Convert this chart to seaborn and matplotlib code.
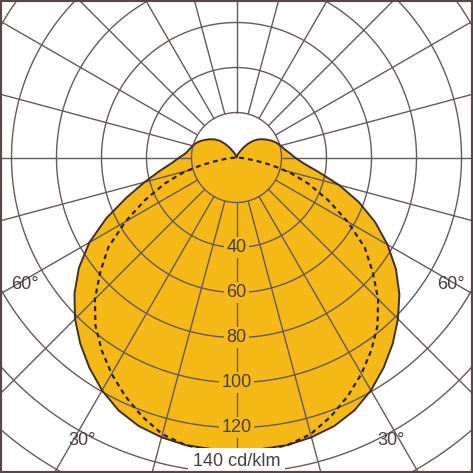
import numpy as np
import matplotlib
matplotlib.use("Agg")
import matplotlib.pyplot as plt
import seaborn as sns

# ── Data (cd/klm) ──────────────────────────────────────────
gamma = [0, 5, 10, 15, 20, 25, 30, 35, 40, 45, 50, 55, 60, 65, 70, 75, 80, 85,
         90, 95, 100, 105, 110, 115, 120, 125, 130, 135, 140, 145, 150, 155,
         160, 170, 180]

# C0 plane (right half) and C180 plane (left half), filled curve
c0 = [130, 130, 129.8, 128.7, 127, 124, 119.5, 114, 108, 101.5, 94.5, 86.5,
      77.5, 68, 57.8, 47.2, 37, 30, 26, 23.6, 21.6, 20.3, 19, 17.5, 15.8,
      14.2, 12.5, 10.5, 8, 5.5, 3.2, 2, 1.2, 0.4, 0]
c180 = [130, 130, 129.8, 128.7, 127, 124, 119.5, 114, 108, 101.5, 94, 85.5,
        75.5, 63.8, 52, 42.3, 34.8, 29, 25.4, 22.6, 21.2, 20.2, 19, 17.5, 15.8,
        14.2, 12.5, 10.5, 8, 5.5, 3.2, 2, 1.2, 0.4, 0]

# C90/C270 plane, dashed curve
gamma_d = [0, 5, 10, 15, 20, 25, 30, 35, 40, 45, 50, 55, 60, 65, 70, 72, 74,
           76, 78, 80, 85, 90]
c90 = [131, 130.8, 129.8, 127.3, 122.5, 117, 111, 104.5, 97.5, 89, 79, 69.5,
       57, 45, 34, 29, 25, 20, 15, 10, 3.5, 0]

ring_values = [40, 60, 80, 100, 120]
angle_labels = ["60°", "30°"]

# ── Style ──────────────────────────────────────────────────
sns.set_style("white")
plt.rcParams["font.family"] = ["Liberation Sans", "DejaVu Sans"]

FILL = "#F4B817"
GRID = "#685959"
EDGE = "#3f2f2f"
TEXT = "#4a3f3f"


def to_xy(g, r, side=1):
    g = np.radians(np.asarray(g, float))
    r = np.asarray(r, float)
    return side * r * np.sin(g), -r * np.cos(g)


fig = plt.figure(figsize=(4.73, 4.73), dpi=100)
ax = fig.add_axes([0, 0, 1, 1])

# filled distribution
xr, yr = to_xy(gamma, c0, 1)
xl, yl = to_xy(gamma, c180, -1)
px = np.concatenate([xr, xl[::-1]])
py = np.concatenate([yr, yl[::-1]])
ax.fill(px, py, color=FILL, zorder=1, lw=0)

# grid: rings and radial lines every 15 degrees starting at r = 20
t = np.linspace(0, 2 * np.pi, 721)
for r in range(20, 220, 20):
    ax.plot(r * np.sin(t), r * np.cos(t), color=GRID, lw=1.0, zorder=2)
for a in range(0, 360, 15):
    ar = np.radians(a)
    ax.plot([20 * np.sin(ar), 220 * np.sin(ar)],
            [-20 * np.cos(ar), -220 * np.cos(ar)],
            color=GRID, lw=1.0, zorder=2)

# outline of filled curve
sns.lineplot(x=px, y=py, sort=False, estimator=None, color=EDGE, lw=1.4,
             ax=ax, zorder=4)

# dashed curve (symmetric)
dxr, dyr = to_xy(gamma_d, c90, 1)
dxl, dyl = to_xy(gamma_d, c90, -1)
dx = np.concatenate([dxl, dxr[::-1]])
dy = np.concatenate([dyl, dyr[::-1]])
sns.lineplot(x=dx, y=dy, sort=False, estimator=None, color="#2a2230",
             lw=1.6, ax=ax, zorder=4, dashes=False, linestyle=(0, (2.2, 1.8)))

# ring labels
for v in ring_values:
    ax.text(0, -v, str(v), ha="center", va="center", fontsize=13,
            color=TEXT, zorder=6,
            bbox=dict(boxstyle="square,pad=0.12", fc=FILL, ec="none"))
ax.text(0, -134.9, "140 cd/klm", ha="center", va="center", fontsize=13,
        color=TEXT, zorder=6,
        bbox=dict(boxstyle="square,pad=0.25", fc="white", ec="none"))

# angle labels
for lab, (x, y) in zip(angle_labels * 2,
                       [(-94, -56.5), (-68.8, -125.6), (95.3, -56.5), (68.7, -125.6)]):
    ax.text(x, y, lab, ha="center", va="center", fontsize=13, color=TEXT,
            zorder=6)

ax.set_xlim(-105.1, 105.1)
ax.set_ylim(-140.2, 70)
ax.set_xticks([])
ax.set_yticks([])
ax.set_xlabel("")
ax.set_ylabel("")
for s in ax.spines.values():
    s.set_visible(True)
    s.set_color("#5a4646")
    s.set_linewidth(3)
    s.set_zorder(10)

fig.savefig("out.png", dpi=100)
